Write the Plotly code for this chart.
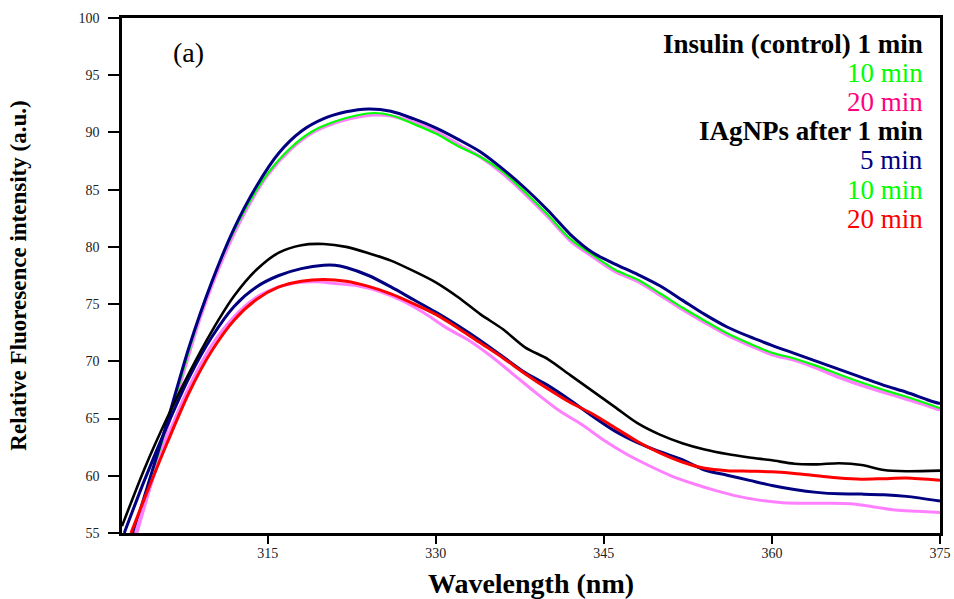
import plotly.graph_objects as go

# ---------------- data ----------------
u_navy_x = [303.0, 304, 306, 308, 310, 312, 314, 316, 318, 320, 322, 324, 326, 328, 330, 332, 334, 336, 338, 340,
            342, 344, 346, 348, 350, 352, 354, 356, 358, 360, 362, 364, 366, 368, 370, 372, 374, 375]
u_navy_y = [55.0, 58.2, 64.6, 71.3, 76.9, 81.6, 85.3, 88.2, 90.1, 91.2, 91.8, 92.05, 91.85, 91.2, 90.4, 89.4, 88.3, 86.8,
            85.1, 83.2, 81.1, 79.5, 78.5, 77.6, 76.6, 75.35, 74.1, 73.0, 72.15, 71.4, 70.7, 70.0, 69.3, 68.6, 67.9, 67.3,
            66.6, 66.3]

u_green_x = [303.1, 305, 307, 309, 311, 313, 315, 317, 319, 321, 323, 324.5, 326, 328, 330, 332, 334, 336, 338, 340,
             342, 344, 346, 348, 350, 352, 354, 356, 358, 360, 362, 364, 366, 368, 370, 372, 374, 375]
u_green_y = [55.0, 61.1, 67.7, 74.2, 79.3, 83.3, 86.4, 88.6, 90.1, 90.95, 91.5, 91.7, 91.5, 90.75, 89.9, 88.8, 87.85,
             86.55, 84.75, 82.8, 80.7, 79.3, 78.0, 77.15, 75.95, 74.7, 73.55, 72.45, 71.55, 70.75, 70.25, 69.6, 68.85,
             68.15, 67.5, 66.9, 66.25, 65.9]

u_pink_x = [303.3, 305, 307, 309, 311, 313, 315, 317, 319, 321, 323, 324.5, 326, 328, 330, 332, 334, 336, 338, 340,
            342, 344, 346, 348, 350, 352, 354, 356, 358, 360, 362, 364, 366, 368, 370, 372, 374, 375]
u_pink_y = [55.0, 60.7, 67.4, 73.9, 79.0, 83.1, 86.3, 88.5, 90.0, 90.85, 91.35, 91.55, 91.45, 90.9, 90.1, 88.95, 87.85,
            86.4, 84.6, 82.65, 80.55, 79.15, 77.85, 77.0, 75.8, 74.55, 73.4, 72.3, 71.4, 70.6, 70.1, 69.4, 68.6, 67.9,
            67.3, 66.7, 66.1, 65.75]

l_black_x = [302.0, 304, 306, 308, 310, 312, 314, 316, 318, 320, 322, 324, 326, 328, 330, 332, 334, 336, 338, 340,
             342, 344, 346, 348, 350, 352, 354, 356, 358, 360, 362, 364, 366, 368, 370, 372, 375]
l_black_y = [55.6, 60.6, 65.0, 69.0, 72.6, 75.7, 78.0, 79.5, 80.15, 80.25, 80.0, 79.45, 78.8, 77.9, 76.9, 75.6, 74.1,
             72.8, 71.2, 70.2, 68.8, 67.4, 66.0, 64.6, 63.6, 62.85, 62.3, 61.9, 61.6, 61.35, 61.05, 61.0, 61.1, 60.95,
             60.5, 60.4, 60.45]

l_navy_x = [302.2, 304, 306, 308, 310, 312, 314, 316, 318, 320, 321, 322, 324, 326, 328, 330, 332, 334, 336, 338, 340,
            342, 344, 346, 348, 350, 352, 354, 356, 358, 360, 362, 364, 366, 368, 370, 372, 375]
l_navy_y = [55.0, 59.6, 64.3, 68.6, 72.1, 74.8, 76.5, 77.5, 78.1, 78.4, 78.4, 78.2, 77.5, 76.5, 75.4, 74.3, 73.1, 71.8,
            70.4, 69.0, 67.9, 66.6, 65.2, 63.9, 62.9, 62.1, 61.4, 60.5, 60.05, 59.6, 59.15, 58.8, 58.55, 58.42, 58.4,
            58.35, 58.2, 57.8]

l_red_x = [302.8, 304, 306, 308, 310, 312, 314, 316, 318, 320, 322, 324, 326, 328, 330, 332, 334, 336, 338, 340,
           342, 344, 346, 348, 350, 352, 354, 356, 358, 360, 362, 364, 366, 368, 370, 372, 375]
l_red_y = [55.0, 58.0, 62.8, 67.3, 70.9, 73.6, 75.4, 76.5, 77.0, 77.15, 77.0, 76.55, 75.9, 75.05, 74.1, 72.9, 71.6,
           70.3, 68.9, 67.6, 66.4, 65.4, 64.2, 63.0, 62.0, 61.2, 60.65, 60.45, 60.4, 60.35, 60.2, 60.0, 59.8, 59.7,
           59.75, 59.8, 59.6]

l_pink_x = [303.2, 304.5, 306, 308, 310, 312, 314, 316, 318, 319.5, 321, 323, 325, 327, 329, 331, 333, 335, 337, 339,
            341, 343, 345, 347, 349, 351, 353, 355, 357, 359, 361, 363, 365, 367, 369, 371, 373, 375]
l_pink_y = [55.0, 59.0, 63.2, 67.8, 71.4, 73.9, 75.6, 76.5, 76.9, 76.95, 76.8, 76.6, 76.1, 75.3, 74.2, 72.9, 71.8,
            70.4, 68.8, 67.2, 65.7, 64.5, 63.1, 61.9, 60.9, 60.0, 59.3, 58.7, 58.2, 57.85, 57.65, 57.6, 57.6, 57.55,
            57.3, 57.0, 56.9, 56.8]

x_ticks = [315, 330, 345, 360, 375]
y_ticks = [55, 60, 65, 70, 75, 80, 85, 90, 95, 100]

legend_lines = ["<b>Insulin (control) 1 min</b>", "10 min", "20 min", "<b>IAgNPs after 1 min</b>",
                "5 min", "10 min", "20 min"]
legend_colors = ["#000000", "#00FF00", "#FF0080", "#000000", "#000080", "#00FF00", "#FF0000"]

NAVY = "#000080"
GREEN = "#00FF00"
PINK = "#FF80FF"
RED = "#FF0000"
BLACK = "#000000"

series = [
    ("Insulin (control) 20 min", u_pink_x, u_pink_y, PINK, 3.5),
    ("Insulin (control) 10 min", u_green_x, u_green_y, GREEN, 2.2),
    ("Insulin (control) 1 min", u_navy_x, u_navy_y, NAVY, 3),
    ("IAgNPs 20 min (pink)", l_pink_x, l_pink_y, PINK, 3),
    ("IAgNPs 5 min", l_navy_x, l_navy_y, NAVY, 3),
    ("IAgNPs 20 min", l_red_x, l_red_y, RED, 3),
    ("IAgNPs after 1 min", l_black_x, l_black_y, BLACK, 2.6),
]

fig = go.Figure()
for name, xs, ys, col, w in series:
    fig.add_trace(go.Scatter(x=xs, y=ys, mode="lines", name=name,
                             line=dict(color=col, width=w, shape="spline", smoothing=0.8),
                             showlegend=False, hoverinfo="x+y"))

FONT = "Liberation Serif, Times New Roman, serif"

annotations = []
plot_h = 515
y_centers = [44, 73, 102, 131, 160, 190, 219]
for txt, col, yc in zip(legend_lines, legend_colors, y_centers):
    annotations.append(dict(text=txt, x=(925 - 122) / 818, xref="paper", xanchor="right",
                            y=(533 - yc) / plot_h, yref="paper", yanchor="middle",
                            showarrow=False, font=dict(family=FONT, size=27, color=col)))
annotations.append(dict(text="(a)", x=(188 - 122) / 818, xref="paper", xanchor="center",
                        y=(533 - 53) / plot_h, yref="paper", yanchor="middle",
                        showarrow=False, font=dict(family=FONT, size=28, color="black")))

fig.update_layout(
    width=954, height=599,
    margin=dict(l=122, r=14, t=18, b=66),
    paper_bgcolor="white", plot_bgcolor="white",
    font=dict(family=FONT, color="black"),
    annotations=annotations,
    showlegend=False,
)
fig.update_xaxes(range=[302, 375], tickvals=x_ticks, ticktext=[str(v) for v in x_ticks],
                 showgrid=False, zeroline=False, showline=True, linecolor="black", linewidth=2.5,
                 mirror=True, ticks="outside", ticklen=8, tickwidth=2, tickcolor="black",
                 tickfont=dict(family=FONT, size=14, color="#222"), automargin=False,
                 ticklabelstandoff=-3,
                 title=dict(text="<b>Wavelength (nm)</b>", font=dict(family=FONT, size=28, color="black"),
                            standoff=19))
fig.update_yaxes(range=[55, 100], tickvals=y_ticks, ticktext=[str(v) for v in y_ticks],
                 showgrid=False, zeroline=False, showline=True, linecolor="black", linewidth=2.5,
                 mirror=True, ticks="outside", ticklen=11, tickwidth=2, tickcolor="black",
                 tickfont=dict(family=FONT, size=14, color="#222"), automargin=False,
                 ticklabelstandoff=6,
                 title=dict(text="<b>Relative Fluoresence intensity (a.u.)</b>",
                            font=dict(family=FONT, size=23, color="black"), standoff=46))

fig.write_html("out.html")
